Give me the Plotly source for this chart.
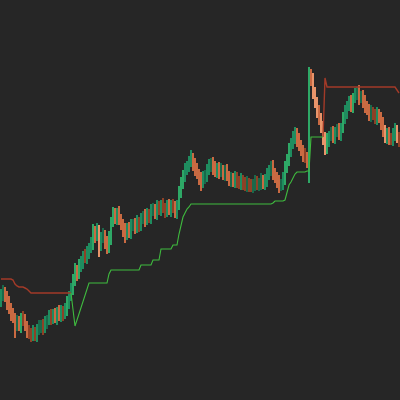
import plotly.graph_objects as go

# ---- data (price units) ----
first_open = 50.0
close = [
    # segment A
    52.5, 54, 51.5, 48.5, 46, 43, 41, 37.5, 39, 37, 41, 40, 37, 34.5, 33.5, 32, 34, 32.5, 35, 36.5,
    37.5, 36, 38.5, 40, 42, 41, 43, 41, 44, 42, 44.5, 43, 45, 49, 52, 55,
    # segment B
    60, 65, 63, 67, 69, 72, 71, 74, 76, 78, 84, 82, 85, 77.5, 81, 82.5, 79, 76, 81, 89,
    93, 91, 93.5, 90, 88, 85, 82.5, 86, 84, 87, 88, 86, 89, 87.5, 90.5, 92, 90, 93, 91.5, 94.5,
    95.5, 93.5, 96.5, 95, 97.5, 96, 94.5, 97, 95, 97.5, 96, 94, 97.5, 103.5,
    # segment C
    108.5, 112.5, 115, 117, 119, 121, 118, 115, 113, 111, 108.5, 111, 112.5, 115, 117, 118.5, 116, 114, 116, 114,
    115, 113, 114.5, 112, 110, 111, 109, 111, 109.5, 108, 110, 108.5, 107, 108.5, 107.5, 106.5, 108, 109, 107.5, 108.5,
    110, 108, 110, 112.5, 115, 116.5, 113.5, 111, 109, 107, 108, 111, 116,
    # segment D
    120, 125, 128, 131, 133.5, 130, 127, 125, 122.5, 121, 119, 162.5, 160, 154, 148.5, 144, 141, 136.5, 131,
    # segment E
    126, 130, 132, 133.5, 131.5, 134, 135, 133, 136, 141, 144, 147, 149, 147, 151, 153, 154, 151, 152, 149,
    147, 145, 142.5, 144, 142.5, 141, 143, 141, 138, 135, 131, 133, 131, 130, 133, 135, 131, 129.5,
]
wick_hi = [
    3, 3.5, 2.5, 3, 3.5, 2.5, 3, 2.5, 3.5, 3, 2.5, 3.5, 3, 2.5, 3, 2.5, 3.5, 2.5, 3, 3.5,
    2.5, 3, 3.5, 2.5, 3, 3.5, 2.5, 3, 2.5, 3.5, 3, 2.5, 3.5, 3, 2.5, 3.5,
    3, 3.5, 2.5, 3.5, 3, 2.5, 3.5, 3, 2.5, 3.5, 4, 3, 3.5, 2.5, 3, 3.5, 2.5, 3, 3.5, 2.5,
    3.5, 3, 2.5, 3.5, 3, 2.5, 3.5, 2.5, 3, 3.5, 2.5, 3, 3.5, 2.5, 3, 2.5, 3.5, 3, 2.5, 3.5,
    3, 2.5, 3.5, 3, 2.5, 3.5, 2.5, 3, 3.5, 2.5, 3, 3.5, 2.5, 3.5,
    3, 2.5, 3.5, 2.5, 3, 4, 2.5, 3, 3.5, 2.5, 3, 3.5, 2.5, 3, 3.5, 2.5, 3, 3.5, 2.5, 3,
    3.5, 2.5, 3, 3.5, 2.5, 3, 2.5, 3.5, 3, 2.5, 3.5, 2.5, 3, 3.5, 2.5, 3, 2.5, 3.5, 3, 2.5,
    3.5, 2.5, 3, 3.5, 2.5, 3, 3.5, 2.5, 3, 3.5, 2.5, 3, 3.5,
    3, 3.5, 3, 3.5, 3, 2.5, 3.5, 3, 2.5, 3.5, 3, 4, 3, 3.5, 2.5, 3, 3.5, 2.5, 3,
    3, 3.5, 2.5, 3, 3.5, 2.5, 3, 3.5, 2.5, 3, 3.5, 2.5, 3, 3.5, 2.5, 3, 2.5, 3.5, 2.5, 3,
    3.5, 2.5, 3, 3.5, 2.5, 3, 3.5, 2.5, 3, 3.5, 2.5, 3, 3.5, 2.5, 3, 3.5, 2.5, 3,
]
wick_lo = [
    3.5, 3, 2.5, 3.5, 3, 3.5, 2.5, 6.5, 3, 2.5, 3.5, 3, 2.5, 3.5, 3, 3, 2.5, 3, 3.5, 2.5,
    3, 3.5, 2.5, 3, 2.5, 3.5, 3, 2.5, 3.5, 2.5, 3, 3.5, 2.5, 3, 3.5, 2.5,
    2.5, 3, 3.5, 2.5, 3, 3.5, 2.5, 3, 3.5, 2.5, 3, 3.5, 2.5, 6, 3, 2.5, 3.5, 3, 2.5, 3.5,
    2.5, 3, 3.5, 2.5, 3, 3.5, 4, 2.5, 3, 3.5, 2.5, 3, 2.5, 3.5, 3, 2.5, 3.5, 2.5, 3, 3.5,
    2.5, 3, 3.5, 2.5, 3, 2.5, 3.5, 3, 2.5, 3.5, 2.5, 3, 3.5, 2.5,
    2.5, 3, 3.5, 2.5, 3, 2.5, 3.5, 3, 2.5, 3.5, 4, 2.5, 3, 3.5, 2.5, 3, 3.5, 2.5, 3, 3.5,
    2.5, 3, 3.5, 2.5, 3, 3.5, 2.5, 3, 3.5, 2.5, 3, 3.5, 2.5, 3, 3.5, 2.5, 3, 3.5, 2.5, 3,
    3.5, 2.5, 3, 3.5, 2.5, 3, 3.5, 2.5, 3, 3.5, 2.5, 3, 3.5,
    2.5, 3, 3.5, 2.5, 3, 3.5, 2.5, 3, 3.5, 2.5, 3, 10.5, 3, 3.5, 2.5, 3, 3.5, 3, 3.5,
    3.5, 3, 3.5, 2.5, 3, 3.5, 2.5, 3, 3.5, 2.5, 3, 3.5, 2.5, 3, 3.5, 2.5, 3, 3.5, 2.5, 3,
    3.5, 2.5, 3, 3.5, 2.5, 3, 3.5, 2.5, 3, 3.5, 2.5, 3, 3.5, 2.5, 3, 3.5, 2.5, 3,
]
N = 200
# trailing stop: red (above price) and green (below price); None where inactive
stop_red = (
    [60.5] * 6 + [60, 58, 57, 56.5, 56.5, 56.5, 56, 55.5, 54.5] + [53.5] * 21
    + [None] * 125
    + [131.5, 161, 156.5] + [156.5] * 34 + [155, 153.5]
)
stop_green = (
    [None] * 35 + [53.5, 45, 37, 40, 43, 46, 49.5, 52.5, 55.5] + [58.5] * 10
    + [63] + [65] * 15 + [67.5] * 6 + [70] * 4 + [75.5] * 6 + [77.5] * 3
    + [83, 88, 91.5, 93.5, 95.5, 96.5] + [98] * 41 + [98.5] + [99.5] * 5
    + [100, 104, 107.5, 109, 111, 113] + [114] * 5 + [114.5, 114.5] + [131.5] * 7
    + [None] * 38
)

x = list(range(N))
opens = [first_open] + close[:-1]
high = [max(o, c) + w for o, c, w in zip(opens, close, wick_hi)]
low = [min(o, c) - w for o, c, w in zip(opens, close, wick_lo)]

up_cols = ["#1a684a", "#1f8c5f", "#2ea866"]
dn_cols = ["#8e4126", "#c96a42", "#e8946a"]
colors = []
for o, c in zip(opens, close):
    b = abs(c - o)
    lvl = 0 if b < 1.6 else (1 if b < 3.6 else 2)
    colors.append(up_cols[lvl] if c >= o else dn_cols[lvl])

body_base = [min(o, c) for o, c in zip(opens, close)]
body_h = [max(abs(c - o), 0.4) for o, c in zip(opens, close)]
wick_h = [h - l for h, l in zip(high, low)]

fig = go.Figure()
fig.add_trace(go.Bar(x=x, y=wick_h, base=low, width=0.4,
                     marker=dict(color=colors, line=dict(width=0)), hoverinfo="skip"))
fig.add_trace(go.Bar(x=x, y=body_h, base=body_base, width=0.6,
                     marker=dict(color=colors, line=dict(width=0)), hoverinfo="skip"))
fig.add_trace(go.Scatter(x=x, y=stop_red, mode="lines",
                         line=dict(color="#a23a28", width=1.4), hoverinfo="skip"))
fig.add_trace(go.Scatter(x=x, y=stop_green, mode="lines",
                         line=dict(color="#3fbb3f", width=1.1), hoverinfo="skip"))

fig.update_layout(
    width=400, height=400, margin=dict(l=0, r=0, t=0, b=0),
    paper_bgcolor="#262626", plot_bgcolor="#262626",
    showlegend=False, barmode="overlay", bargap=0,
    xaxis=dict(visible=False, range=[-0.5, N - 0.5]),
    yaxis=dict(visible=False, range=[0, 200]),
)
fig.write_html(
    "out.html",
    config={"displayModeBar": False},
    post_script="document.body.style.margin='0';document.body.style.background='#262626';",
)
